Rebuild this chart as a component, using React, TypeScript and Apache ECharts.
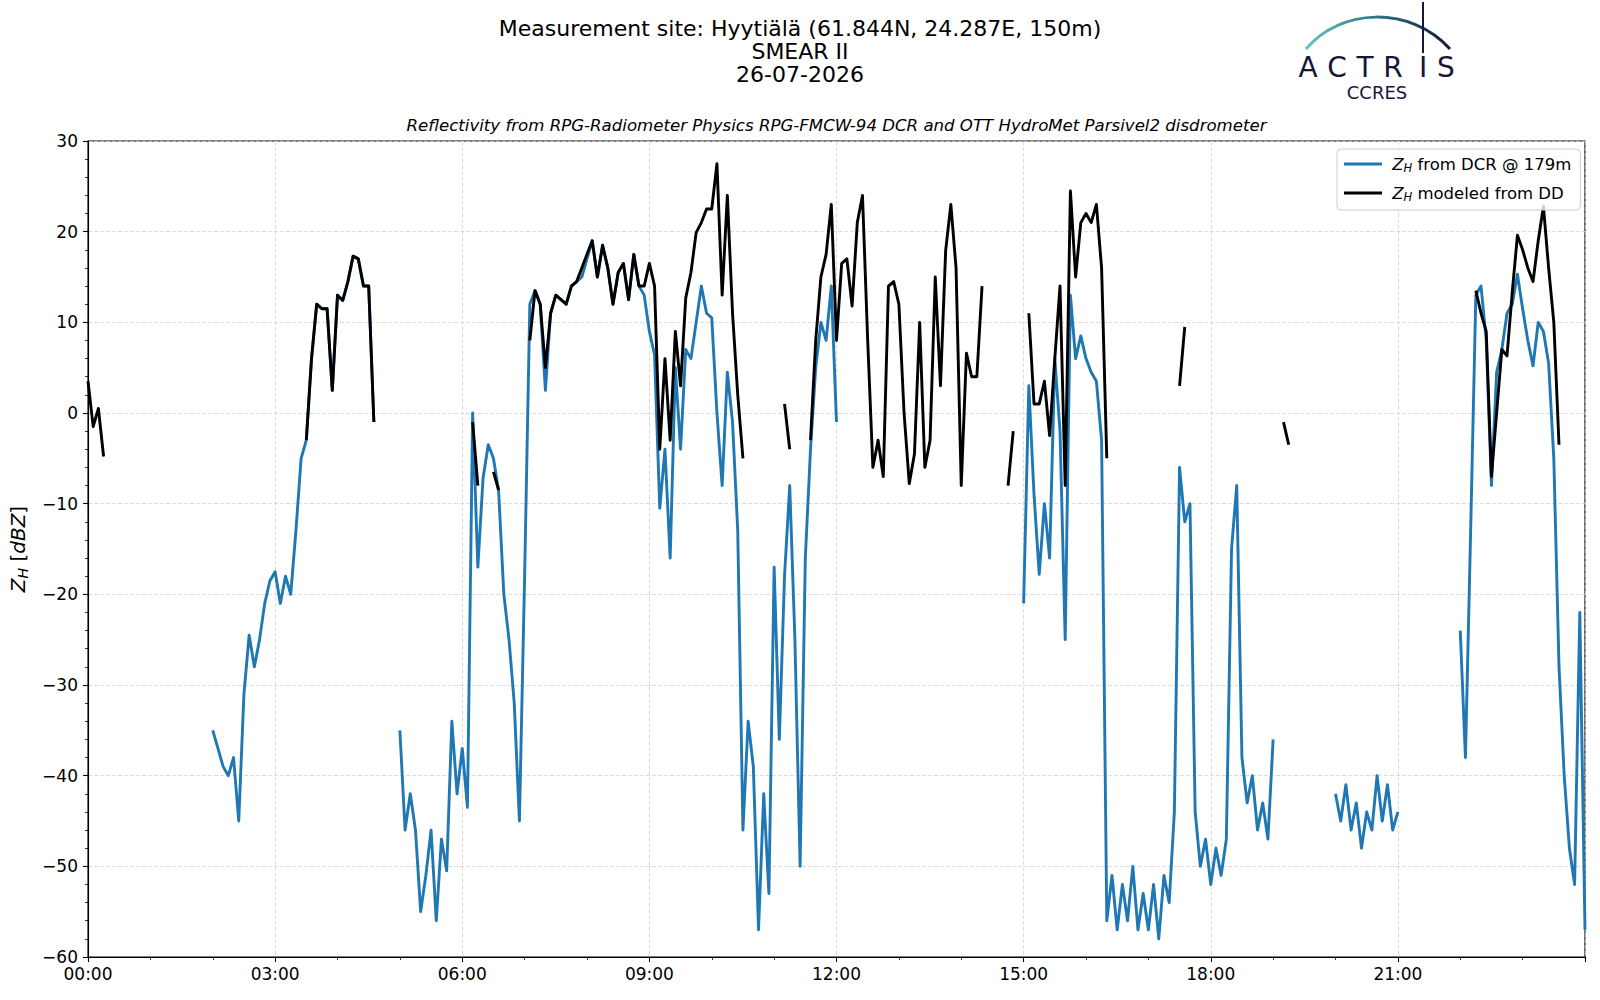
import React, { useEffect, useRef } from "react";
import * as echarts from "echarts";

// 5-minute samples from 00:00 to 24:00, null where there is no data
const _ = null;
const STEP_H = 5 / 60;
const TICK_STEP_H = 3;
const FONT = "'DejaVu Sans', 'Liberation Sans', sans-serif";

const TITLE_LINES = ["Measurement site: Hyytiälä (61.844N, 24.287E, 150m)", "SMEAR II", "26-07-2026"];
const SUBTITLE = "Reflectivity from RPG-Radiometer Physics RPG-FMCW-94 DCR and OTT HydroMet Parsivel2 disdrometer";
const LOGO_LETTERS = ["A", "C", "T", "R", "I", "S"];

// Z_H from DCR @ 179m
const dcrZh: (number | null)[] = [
  _, _, _, _, _, _, _, _, _, _, _, _,
  _, _, _, _, _, _, _, _, _, _, _, _,
  -35, -37, -39, -40, -38, -45, -31, -24.5, -28, -25, -21, -18.5,
  -17.5, -21, -18, -20, -13, -5, -3, 6, 12, 11.5, 11.5, 2.5,
  13, 12.4, 14.5, 17.3, 17, 14, 14, -1, _, _, _, _,
  -35, -46, -42, -46, -55, -51, -46, -56, -47, -50.5, -34, -42,
  -37, -43.5, 0, -17, -7.2, -3.5, -5, -8.6, -20, -25, -32, -45,
  -18, 12, 13.5, 12, 2.5, 11, 13, 12.5, 12, 14, 14.5, 15,
  17, 19, 15, 18.5, 16, 12, 15.5, 16.5, 12.5, 17.5, 14, 13,
  9, 6.4, -10.5, -4, -16, 5, -4, 7, 6, 10, 14, 11,
  10.5, 0, -8, 4.5, -1, -13, -46, -34, -39, -57, -42, -53,
  -17, -36, -18, -8, -25, -50, -16, -4, 5, 10, 8, 14,
  -1, _, _, _, _, _, _, _, _, _, _, _,
  _, _, _, _, _, _, _, _, _, _, _, _,
  _, _, _, _, _, _, _, _, _, _, _, _,
  -21, 3, -9, -17.8, -10, -16, 6, -2, -25, 13, 6, 8.5,
  6, 4.5, 3.5, -3, -56, -51, -57, -52, -56, -50, -57, -53,
  -57, -52, -58, -51, -54, -44, -6, -12, -10, -44, -50, -47,
  -52, -48, -51, -47, -15, -8, -38, -43, -40, -46, -43, -47,
  -36, _, _, _, _, _, _, _, _, _, _, _,
  -42, -45, -41, -46, -43, -48, -44, -46, -40, -45, -41, -46,
  -44, _, _, _, _, _, _, _, _, _, _, _,
  -24, -38, -13, 13, 14, 8, -8, 4.5, 7, 11, 12, 15.3,
  11.5, 8, 5.2, 10, 9, 5.5, -5, -28, -40, -48, -52, -22,
  -57,
];

// Z_H modeled from DD
const ddZh: (number | null)[] = [
  3.5, -1.5, 0.5, -4.8, _, _, _, _, _, _, _, _,
  _, _, _, _, _, _, _, _, _, _, _, _,
  _, _, _, _, _, _, _, _, _, _, _, _,
  _, _, _, _, _, _, -3, 6, 12, 11.5, 11.5, 2.5,
  13, 12.4, 14.5, 17.3, 17, 14, 14, -1, _, _, _, _,
  _, _, _, _, _, _, _, _, _, _, _, _,
  _, _, -1, -8, _, _, -6.5, -8.5, _, _, _, _,
  _, 8, 13.5, 12, 5, 11, 13, 12.5, 12, 14, 14.5, 16,
  17.5, 19, 15, 18.5, 16, 12, 15.5, 16.5, 12.5, 17.5, 14, 14,
  16.5, 14, -4, 6, -3, 9, 3, 12.7, 15.5, 19.9, 21, 22.5,
  22.5, 27.5, 13, 24, 11, 2, -5, _, _, _, _, _,
  _, _, 1, -4, _, _, _, -3, 8, 15, 17.5, 23,
  8, 16.5, 17, 11.8, 21, 24, 8, -6, -3, -7, 14, 14.5,
  12, 0, -7.8, -4.5, 10, -6, -3, 15, 3, 17.9, 23, 16,
  -8, 6.6, 4, 4, 14, _, _, _, _, -8, -2, _,
  _, 11, 1, 1, 3.5, -2.5, 6, 14, -8, 24.5, 15, 21,
  22, 21, 23, 16, -5, _, _, _, _, _, _, _,
  _, _, _, _, _, _, 3, 9.5, _, _, _, _,
  _, _, _, _, _, _, _, _, _, _, _, _,
  _, _, -1, -3.5, _, _, _, _, _, _, _, _,
  _, _, _, _, _, _, _, _, _, _, _, _,
  _, _, _, _, _, _, _, _, _, _, _, _,
  _, _, _, 13.5, 11, 9, -7, 0, 7, 6.3, 13.3, 19.6,
  18, 16, 14.5, 19, 22.8, 16, 10, -3.5, _, _, _, _,
  _,
];

const toPairs = (vals: (number | null)[]) =>
  vals.map((v, i) => [i * STEP_H, v === null ? "-" : v]);

const minus = (v: number) => (v < 0 ? "\u2212" + Math.abs(v) : String(v));

export default function App() {
  const chartRef = useRef<HTMLDivElement>(null);

  useEffect(() => {
    document.body.style.margin = "0";
    if (!chartRef.current) return;
    const chart = echarts.init(chartRef.current, null, { renderer: "svg" });

    const subRich = {
      z: { fontFamily: FONT, fontSize: 16.5, fontStyle: "italic", lineHeight: 20 },
      h: { fontFamily: FONT, fontSize: 11.5, fontStyle: "italic", lineHeight: 11, verticalAlign: "bottom" },
    };

    const letterX = [1308, 1337, 1365, 1393, 1423, 1446];

    chart.setOption({
      animation: false,
      backgroundColor: "#ffffff",
      textStyle: { fontFamily: FONT },
      grid: { left: 88, right: 15, top: 141, bottom: 43, show: true, borderColor: "#000", borderWidth: 1.1 },
      legend: {
        orient: "vertical",
        left: 1337,
        top: 149,
        data: [
          { name: "dcr", icon: "rect" },
          { name: "dd", icon: "rect" },
        ],
        itemWidth: 38,
        itemHeight: 2.8,
        itemGap: 9,
        padding: [5, 9, 7, 7],
        backgroundColor: "rgba(255,255,255,0.8)",
        borderColor: "#cccccc",
        borderWidth: 1,
        borderRadius: 4,
        formatter: (name: string) =>
          name === "dcr" ? " {z|Z}{h|H} from DCR @ 179m" : " {z|Z}{h|H} modeled from DD",
        textStyle: { fontFamily: FONT, fontSize: 16.5, color: "#000", lineHeight: 20, rich: subRich },
      },
      xAxis: {
        type: "value",
        min: 0,
        max: 24,
        interval: TICK_STEP_H,
        axisLine: { show: true, onZero: false, lineStyle: { color: "#000", width: 1.1 } },
        axisTick: { show: true, length: 5, lineStyle: { color: "#000", width: 1.1 } },
        minorTick: { show: true, splitNumber: 3, length: 3, lineStyle: { color: "#000", width: 0.8 } },
        axisLabel: {
          color: "#000",
          fontSize: 17,
          fontFamily: FONT,
          margin: 8,
          showMaxLabel: false,
          formatter: (v: number) => (v >= 24 ? "" : String(v).padStart(2, "0") + ":00"),
        },
        splitLine: { show: true, lineStyle: { color: "#d3d3d3", type: [4, 2], width: 0.8 } },
      },
      yAxis: {
        type: "value",
        min: -60,
        max: 30,
        interval: 10,
        name: "{z|Z}{h|H} [{z|dBZ}]",
        nameLocation: "middle",
        nameGap: 58,
        nameRotate: 90,
        nameTextStyle: {
          color: "#000",
          fontSize: 20,
          fontFamily: FONT,
          rich: {
            z: { fontFamily: FONT, fontSize: 20, fontStyle: "italic", lineHeight: 24 },
            h: { fontFamily: FONT, fontSize: 14, fontStyle: "italic", lineHeight: 13, verticalAlign: "bottom" },
          },
        },
        axisLine: { show: true, lineStyle: { color: "#000", width: 1.1 } },
        axisTick: { show: true, length: 5, lineStyle: { color: "#000", width: 1.1 } },
        minorTick: { show: true, splitNumber: 5, length: 3, lineStyle: { color: "#000", width: 0.8 } },
        axisLabel: { color: "#000", fontSize: 17, fontFamily: FONT, margin: 10, formatter: minus },
        splitLine: { show: true, lineStyle: { color: "#d3d3d3", type: [4, 2], width: 0.8 } },
      },
      series: [
        {
          name: "dcr",
          type: "line",
          data: toPairs(dcrZh),
          showSymbol: false,
          connectNulls: false,
          color: "#1f77b4",
          lineStyle: { color: "#1f77b4", width: 2.9, join: "round" },
          z: 2,
        },
        {
          name: "dd",
          type: "line",
          data: toPairs(ddZh),
          showSymbol: false,
          connectNulls: false,
          color: "#000000",
          lineStyle: { color: "#000000", width: 2.9, join: "round" },
          z: 3,
        },
      ],
      graphic: [
        ...TITLE_LINES.map((t, k) => ({
          type: "text",
          x: 800,
          y: 28.6 + k * 23,
          style: {
            text: t,
            fill: "#000",
            fontFamily: FONT,
            fontSize: 22,
            textAlign: "center",
            textVerticalAlign: "middle",
          },
        })),
        {
          type: "text",
          x: 836.5,
          y: 125.5,
          style: {
            text: SUBTITLE,
            fill: "#000",
            fontFamily: FONT,
            fontSize: 16.6,
            fontStyle: "italic",
            textAlign: "center",
            textVerticalAlign: "middle",
          },
        },
        {
          type: "bezierCurve",
          shape: { x1: 1306, y1: 49, x2: 1450, y2: 49, cpx1: 1340, cpy1: 8, cpx2: 1410, cpy2: 5 },
          style: {
            fill: "none",
            lineWidth: 3,
            stroke: new echarts.graphic.LinearGradient(0, 0, 1, 0, [
              { offset: 0, color: "#6cc3bd" },
              { offset: 0.45, color: "#2a7f8f" },
              { offset: 1, color: "#15163a" },
            ]),
          },
        },
        {
          type: "line",
          shape: { x1: 1423, y1: 2, x2: 1423, y2: 53 },
          style: { lineWidth: 2, stroke: "#15163a" },
        },
        ...LOGO_LETTERS.map((l, k) => ({
          type: "text",
          x: letterX[k],
          y: 67.5,
          style: {
            text: l,
            fill: "#15163a",
            fontFamily: FONT,
            fontSize: 28,
            textAlign: "center",
            textVerticalAlign: "middle",
          },
        })),
        {
          type: "text",
          x: 1377,
          y: 92.5,
          style: {
            text: "CCRES",
            fill: "#15163a",
            fontFamily: FONT,
            fontSize: 18,
            textAlign: "center",
            textVerticalAlign: "middle",
          },
        },
      ],
    });

    return () => {
      chart.dispose();
    };
  }, []);

  return <div ref={chartRef} style={{ width: 1600, height: 1000 }} />;
}
